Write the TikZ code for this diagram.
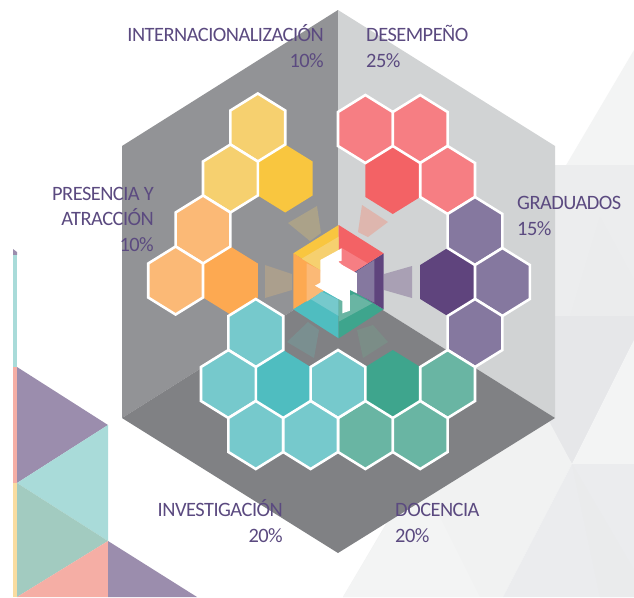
\documentclass[tikz,border=0pt]{standalone}
\usepackage{fontspec}
\setmainfont{Carlito}[LetterSpace=-2.5]
\definecolor{panelL}{HTML}{929396}
\definecolor{panelR}{HTML}{D1D3D4}
\definecolor{panelB}{HTML}{808184}
\definecolor{redL}{HTML}{F67E83}\definecolor{redD}{HTML}{F36265}
\definecolor{purL}{HTML}{85789F}\definecolor{purD}{HTML}{5F447D}
\definecolor{grnL}{HTML}{69B5A3}\definecolor{grnD}{HTML}{3EA58D}
\definecolor{teaL}{HTML}{76C9CC}\definecolor{teaD}{HTML}{4FBDC0}
\definecolor{oraL}{HTML}{FBB976}\definecolor{oraD}{HTML}{FDA951}
\definecolor{yelL}{HTML}{F6D06F}\definecolor{yelD}{HTML}{F9C63F}
\definecolor{txt}{HTML}{5B4A80}
\definecolor{triP}{HTML}{9B8DAD}\definecolor{triT}{HTML}{A9DBD9}
\definecolor{triG}{HTML}{A2CBC0}\definecolor{triS}{HTML}{F5AEA5}
\definecolor{triY}{HTML}{F9DCA0}
\definecolor{bgA}{HTML}{F3F4F4}\definecolor{bgB}{HTML}{ECEDEE}
\definecolor{bgB2}{HTML}{EBECED}\definecolor{bgC}{HTML}{E6E7E9}
\definecolor{bgD}{HTML}{F1F2F2}\definecolor{bgE}{HTML}{EBECEE}
\definecolor{bgE2}{HTML}{EAEBEC}
\definecolor{rayY}{HTML}{ABA289}\definecolor{rayO}{HTML}{AB9F8D}
\definecolor{rayR}{HTML}{DEB6AE}\definecolor{rayP}{HTML}{A9A0B4}
\definecolor{rayG}{HTML}{7B8D87}\definecolor{rayT}{HTML}{7A8F90}
\tikzset{
  lab/.style={inner sep=0pt,text=txt,font=\fontsize{20.4}{25.5}\selectfont},
  labr/.style={lab,anchor=base east,align=right},
  labl/.style={lab,anchor=base west,align=left},
}
\newcommand{\hexpath}[2]{%
  ({338+(#1)*27.4},{282+(#2)*51-34}) -- ({338+(#1)*27.4+27.4},{282+(#2)*51-17}) --
  ({338+(#1)*27.4+27.4},{282+(#2)*51+17}) -- ({338+(#1)*27.4},{282+(#2)*51+34}) --
  ({338+(#1)*27.4-27.4},{282+(#2)*51+17}) -- ({338+(#1)*27.4-27.4},{282+(#2)*51-17}) -- cycle}
\newcommand{\hexD}[3]{\fill[#3] \hexpath{#1}{#2};}
\newcommand{\hexL}[3]{\draw[fill=#3,draw=white,line width=2.6pt,line join=miter] \hexpath{#1}{#2};}
\begin{document}
\begin{tikzpicture}[x=1pt,y=-1pt]
\useasboundingbox (0,0) rectangle (634,597);
\fill[white] (0,0) rectangle (634,597);
% right background facets
\fill[bgA] (634,50) -- (565,167) -- (634,167) -- cycle;
\fill[bgB] (540,165) rectangle (634,317);
\fill[bgB2] (600,217) -- (634,280) -- (634,317) -- (570,317) -- cycle;
\fill[bgC] (540,316) rectangle (634,345);
\fill[bgC] (540,316) -- (634,340) -- (572,464) -- (540,410) -- cycle;
\fill[bgA] (634,340) -- (572,464) -- (634,464) -- cycle;
\fill[bgD] (343,597) -- (500,330) -- (572,464) -- (503,597) -- cycle;
\fill[bgA] (343,597) -- (440,435) -- (440,517) -- (480,597) -- cycle;
\fill[bgE] (572,464) -- (634,464) -- (634,597) -- (503,597) -- cycle;
\fill[bgE2] (572,464) -- (634,570) -- (634,597) -- (600,597) -- cycle;
% left strip and triangles
\fill[triP] (13,249) -- (17,252) -- (17,255) -- (13,255) -- cycle;
\fill[triT] (13,255) rectangle (17,367);
\fill[triS] (13,367) rectangle (17,483);
\fill[triY] (13,483) rectangle (17,597);
\fill[triP] (17,367) -- (108,425) -- (17,483) -- cycle;
\fill[triT] (17,483) -- (108,425) -- (108,541) -- cycle;
\fill[triG] (17,483) -- (108,541) -- (17,597) -- cycle;
\fill[triS] (17,597) -- (108,541) -- (108,597) -- cycle;
\fill[triP] (108,541) -- (197,597) -- (108,597) -- cycle;
% panels
\fill[panelL] (338,10) -- (122,146) -- (122,418) -- (338,282) -- cycle;
\fill[panelR] (338,10) -- (555,146) -- (555,418) -- (338,282) -- cycle;
\fill[panelB] (338,282) -- (555,418) -- (338,553) -- (122,418) -- cycle;
% rays
\fill[rayY] (288,223) -- (317,206) -- (321,233) -- (310,241) -- cycle;
\fill[rayR] (362,205) -- (388,222) -- (368,237) -- (358,232) -- cycle;
\fill[rayO] (265,265) -- (292,274) -- (292,290) -- (265,298) -- cycle;
\fill[rayP] (412,266) -- (384,274) -- (384,290) -- (412,298) -- cycle;
\fill[rayT] (287,342) -- (308,322) -- (319,330) -- (314,358) -- cycle;
\fill[rayG] (388,342) -- (373,325) -- (357,330) -- (363,358) -- cycle;
% hexagons: dark ones have no outline of their own
\begin{scope}[shift={(2,-1.5)}]
\hexD{-2}{-2}{yelD}\hexD{-4}{0}{oraD}
\end{scope}
\hexD{2}{-2}{redD}\hexD{4}{0}{purD}\hexD{2}{2}{grnD}\hexD{-2}{2}{teaD}
\begin{scope}[shift={(2,-1.5)}]
\hexL{-3}{-3}{yelL}\hexL{-4}{-2}{yelL}
\hexL{-5}{-1}{oraL}\hexL{-6}{0}{oraL}
\end{scope}
\hexL{1}{-3}{redL}\hexL{3}{-3}{redL}\hexL{4}{-2}{redL}
\hexL{5}{-1}{purL}\hexL{6}{0}{purL}\hexL{5}{1}{purL}
\hexL{4}{2}{grnL}\hexL{1}{3}{grnL}\hexL{3}{3}{grnL}
\hexL{-3}{1}{teaL}\hexL{-4}{2}{teaL}\hexL{0}{2}{teaL}
\hexL{-3}{3}{teaL}\hexL{-1}{3}{teaL}
% central cube
\begin{scope}[shift={(285,220)},x=0.3333pt,y=-0.3333pt]
\fill[yelD] (161,15) -- (25,100) -- (161,185) -- cycle;
\fill[oraD] (25,100) -- (25,268) -- (161,185) -- cycle;
\fill[teaD] (25,268) -- (161,355) -- (161,185) -- cycle;
\fill[grnD] (161,355) -- (296,268) -- (161,185) -- cycle;
\fill[purD] (296,268) -- (296,100) -- (161,185) -- cycle;
\fill[redD] (296,100) -- (161,15) -- (161,185) -- cycle;
\fill[yelL] (161,50) -- (50,116) -- (105,150) -- (161,120) -- cycle;
\fill[oraL] (65,130) -- (105,150) -- (120,210) -- (65,245) -- cycle;
\fill[teaL] (78,238) -- (110,215) -- (161,240) -- (161,288) -- cycle;
\fill[grnL] (161,240) -- (207,222) -- (262,250) -- (161,305) -- cycle;
\fill[purL] (205,160) -- (268,120) -- (268,248) -- (205,215) -- cycle;
\fill[redL] (165,85) -- (172,85) -- (248,130) -- (205,157) -- (165,130) -- cycle;
\fill[white] (106,120) -- (170,85) -- (170,122) -- (160,125) -- (172,135) -- (216,160)
  -- (216,220) -- (195,210) -- (195,272) -- (172,280) -- (172,243) -- (160,237)
  -- (90,197) -- (106,188) -- cycle;
\end{scope}
% labels (anchored at the baseline of their last line)
\node[labr] (lint) at (324,67) {INTERNACIONALIZACIÓN\\10\%};
\node[labl] (ldes) at (366,67) {DESEMPEÑO\\25\%};
\node[labl] (lgra) at (517,235) {GRADUADOS\\15\%};
\node[labr] (lpre) at (154,251) {PRESENCIA Y\\ATRACCIÓN\\10\%};
\node[labr] (linv) at (283,542) {INVESTIGACIÓN\\20\%};
\node[labl] (ldoc) at (395,542) {DOCENCIA\\20\%};
\end{tikzpicture}
\end{document}
